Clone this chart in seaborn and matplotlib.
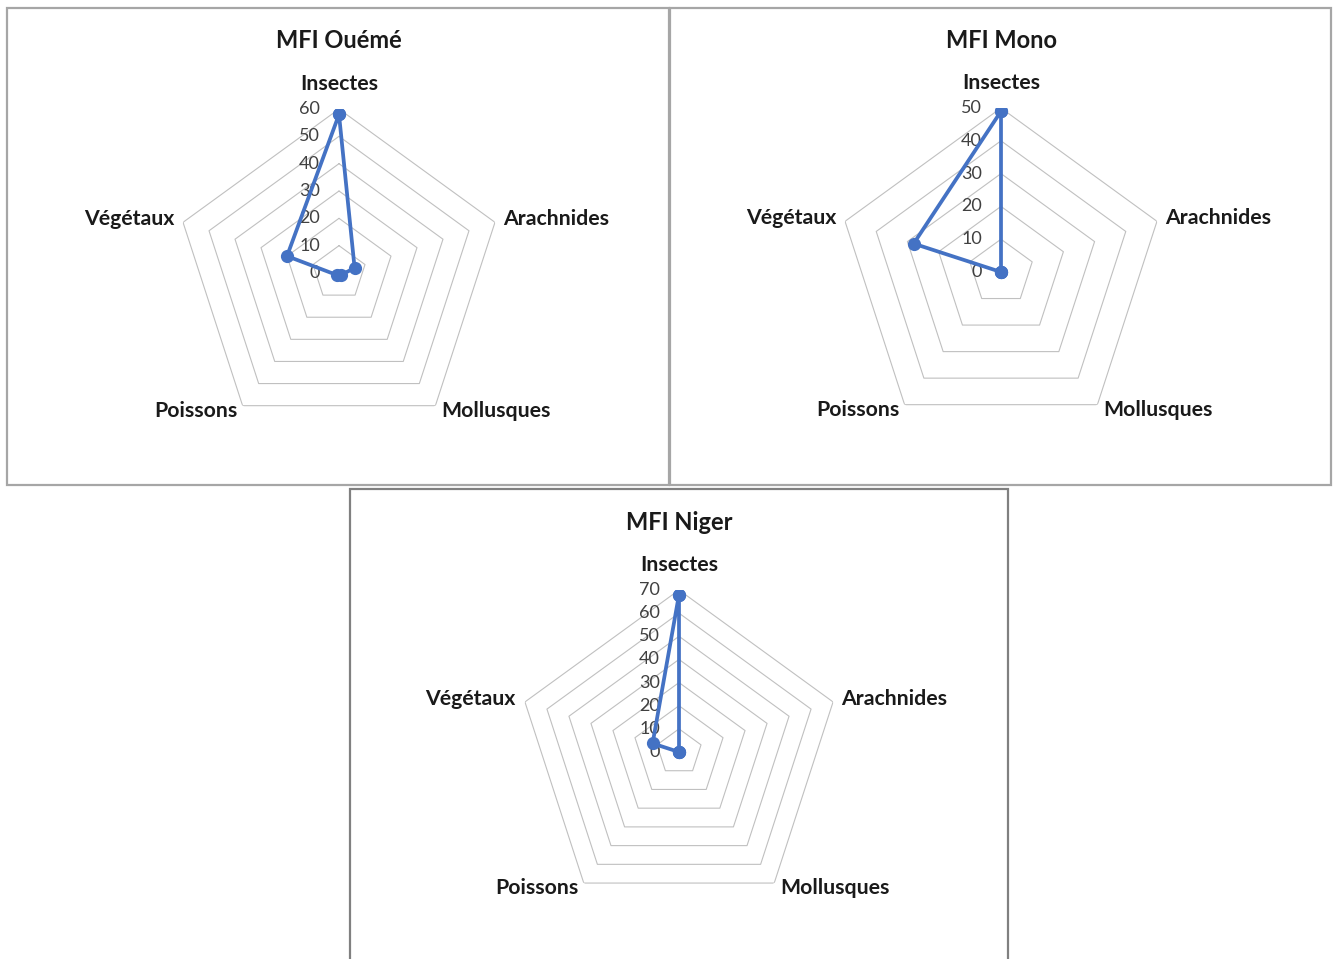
import numpy as np
import matplotlib
matplotlib.use("Agg")
import matplotlib.pyplot as plt
from matplotlib.patches import Rectangle
import seaborn as sns

# Diet composition (%) per MFI site, one value per food category
categories = ["Insectes", "Arachnides", "Mollusques", "Poissons", "Végétaux"]
oueme = [58, 6, 1, 1, 20]
mono = [49, 0, 0, 0, 28]
niger = [68, 0, 0, 0, 12]
titles = ["MFI Ouémé", "MFI Mono", "MFI Niger"]
axis_max = [60, 50, 70]
axis_step = 10

series = [oueme, mono, niger]

sns.set_theme(style="white")
plt.rcParams["font.family"] = ["Lato", "DejaVu Sans"]

W, H = 1333, 959
fig = plt.figure(figsize=(W / 100, H / 100), dpi=100)
fig.patch.set_facecolor("white")

# panel frames in pixels: left, top, right, bottom, edge colour
frames = [(7, 8, 669, 485, "#a6a6a6"),
          (670, 8, 1331, 485, "#a6a6a6"),
          (350, 489, 1008, 975, "#808080")]
for l, t, r, b, c in frames:
    fig.add_artist(Rectangle((l / W, 1 - b / H), (r - l) / W, (b - t) / H,
                             transform=fig.transFigure, fill=False,
                             edgecolor=c, linewidth=1.6))

# radar centre and outer radius in pixels, title y position
layout = [(339, 273, 164, 41), (1001, 272, 164, 41), (679, 752, 162, 523)]

# label offsets (pixels) from each outer vertex
label_offsets = [((0, 25), "center"), ((8, 3), "left"), ((6, -5), "left"),
                 ((-5, -5), "right"), ((-9, 3), "right")]

line_color = "#4472C4"
grid_color = "#c0c0c0"
theta = np.linspace(0, 2 * np.pi, len(categories), endpoint=False)
theta_closed = np.append(theta, 2 * np.pi)

for vals, title, vmax, (cx, cy, R, ty) in zip(series, titles, axis_max, layout):
    ax = fig.add_axes([(cx - R) / W, 1 - (cy + R) / H, 2 * R / W, 2 * R / H],
                      projection="polar")
    ax.set_theta_zero_location("N")
    ax.set_theta_direction(-1)
    ax.patch.set_alpha(0)

    ticks = list(range(0, vmax + 1, axis_step))
    for t in ticks[1:]:
        ax.plot(theta_closed, [t] * len(theta_closed), color=grid_color,
                lw=0.8, zorder=1)

    closed_vals = list(vals) + [vals[0]]
    sns.lineplot(x=theta_closed, y=closed_vals, ax=ax, sort=False,
                 estimator=None, color=line_color, lw=2.7, marker="o",
                 markersize=9.5, markeredgewidth=0, zorder=3)

    ax.set_ylim(0, vmax)
    ax.grid(False)
    ax.spines["polar"].set_visible(False)
    ax.set_xticks([])
    ax.set_yticks([])
    ax.set_xlabel("")
    ax.set_ylabel("")

    for t in ticks:
        ax.annotate(str(t), xy=(0, t), xytext=(-19, 0),
                    textcoords="offset pixels", ha="right", va="center",
                    fontsize=13, color="#404040", zorder=2)

    for th, cat, (off, ha) in zip(theta, categories, label_offsets):
        ax.annotate(cat, xy=(th, vmax), xytext=off, textcoords="offset pixels",
                    ha=ha, va="center", fontsize=15.3, fontweight="bold",
                    color="#1a1a1a", annotation_clip=False)

    fig.text(cx / W, 1 - ty / H, title, ha="center", va="center",
             fontsize=17, fontweight="bold", color="#1a1a1a")

fig.savefig("out.png", dpi=100, facecolor="white")
